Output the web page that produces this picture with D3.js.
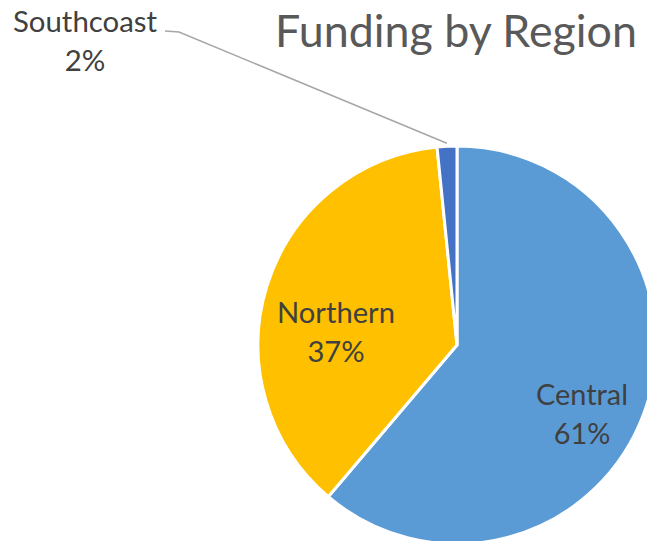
<!DOCTYPE html>
<html>
<head>
<meta charset="utf-8">
<title>Funding by Region</title>
<script src="https://cdn.jsdelivr.net/npm/d3@7"></script>
<style>
  body { margin: 0; background: #fff; }
  svg { display: block; }
</style>
</head>
<body>
<svg id="chart"></svg>
<script>
// data
var regions = ["Central", "Northern", "Southcoast"];
var shares = [61.2, 37.2, 1.6];
var shareLabels = ["61%", "37%", "2%"];
var colors = ["#5B9BD5", "#FFC000", "#4472C4"];

var W = 647, H = 541;
var cx = 457, cy = 345, r = 199;
var font = "Lato, 'Open Sans', sans-serif";

// where each label block sits (centre x, first baseline), and target widths of the first line
var labelLayout = [
  { x: 582, y: 405, w: 92 },
  { x: 336, y: 323, w: 118 },
  { x: 85, y: 32, w: 144 }
];
var lineGap = 39;

var svg = d3.select("#chart").attr("width", W).attr("height", H);

var pie = d3.pie().sort(null).value(function(d) { return d; });
var arcs = pie(shares);
var arc = d3.arc().innerRadius(0).outerRadius(r);

var g = svg.append("g").attr("transform", "translate(" + cx + "," + cy + ")");

g.selectAll("path")
  .data(arcs)
  .enter().append("path")
  .attr("d", arc)
  .attr("fill", function(d, i) { return colors[i]; })
  .attr("stroke", "#fff")
  .attr("stroke-width", 3)
  .attr("stroke-linejoin", "round");

// shrink/grow a text so it spans a given width
function fit(sel, target, base) {
  sel.style("font-size", base + "px");
  var w = sel.node().getComputedTextLength();
  sel.style("font-size", (base * target / w) + "px");
}

var labels = svg.selectAll("g.lbl")
  .data(arcs)
  .enter().append("g")
  .attr("class", "lbl");

labels.each(function(d, i) {
  var L = labelLayout[i];
  var el = d3.select(this);
  var t1 = el.append("text")
    .attr("x", L.x).attr("y", L.y)
    .attr("text-anchor", "middle")
    .attr("fill", "#404040")
    .style("font-family", font)
    .text(regions[i]);
  fit(t1, L.w, 28);
  var fs = t1.style("font-size");
  el.append("text")
    .attr("x", L.x).attr("y", L.y + lineGap)
    .attr("text-anchor", "middle")
    .attr("fill", "#404040")
    .style("font-family", font)
    .style("font-size", fs)
    .text(shareLabels[i]);
});

// leader line for the thin Southcoast slice
var sc = arcs[2];
var mid = (sc.startAngle + sc.endAngle) / 2;
var ex = cx + Math.sin(mid) * (r + 3);
var ey = cy - Math.cos(mid) * (r + 3);
var lx = labelLayout[2].x + labelLayout[2].w / 2 + 8;
var ly = labelLayout[2].y - 1;
svg.append("path")
  .attr("d", "M" + lx + "," + ly + "L" + (lx + 14) + "," + (ly + 1) + "L" + ex + "," + ey)
  .attr("fill", "none")
  .attr("stroke", "#A6A6A6")
  .attr("stroke-width", 1.5);

// title
var title = svg.append("text")
  .attr("x", 637).attr("y", 47)
  .attr("text-anchor", "end")
  .attr("fill", "#595959")
  .style("font-family", font)
  .text("Funding by Region");
fit(title, 362, 44);
</script>
</body>
</html>
